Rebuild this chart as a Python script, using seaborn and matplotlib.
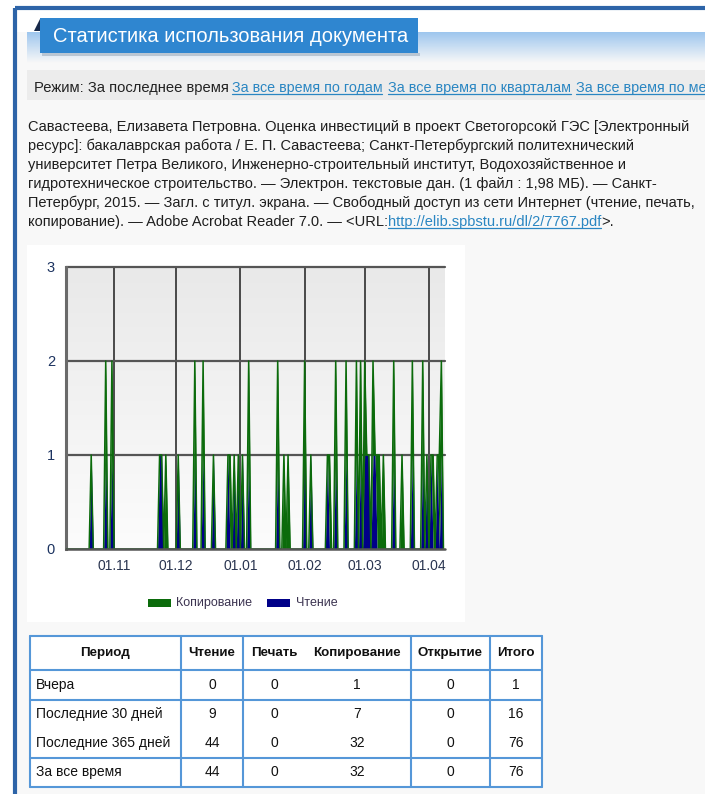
import numpy as np
import pandas as pd
import matplotlib
matplotlib.use("Agg")
import matplotlib.pyplot as plt
from matplotlib.patches import Rectangle, Polygon
from matplotlib.colors import LinearSegmentedColormap
import seaborn as sns

# ---------------- data ----------------
event_dates = ["2015-10-21", "2015-10-28", "2015-10-31", "2015-11-23", "2015-11-24",
               "2015-11-26", "2015-12-02", "2015-12-10", "2015-12-14", "2015-12-19",
               "2015-12-26", "2015-12-27", "2015-12-29", "2015-12-31", "2016-01-02",
               "2016-01-05", "2016-01-19", "2016-01-22", "2016-01-24", "2016-02-01",
               "2016-02-04", "2016-02-12", "2016-02-13", "2016-02-16", "2016-02-21",
               "2016-02-26", "2016-02-28", "2016-03-01", "2016-03-02", "2016-03-03",
               "2016-03-05", "2016-03-06", "2016-03-07", "2016-03-08", "2016-03-10",
               "2016-03-15", "2016-03-19", "2016-03-24", "2016-03-29", "2016-03-31",
               "2016-04-02", "2016-04-03", "2016-04-05", "2016-04-06", "2016-04-07"]
reading = [1, 1, 1, 1, 1, 0, 1, 1, 1, 1, 1, 0, 1, 1, 1, 1, 1, 0, 0, 1, 1, 1, 0,
           1, 1, 1, 1, 1, 1, 1, 1, 1, 0, 0, 0, 1, 0, 1, 1, 1, 1, 0, 1, 0, 1]
copying = [0, 1, 1, 0, 0, 1, 0, 1, 1, 0, 0, 1, 0, 0, 0, 1, 1, 1, 1, 1, 0, 0, 1,
           1, 1, 1, 1, 1, 0, 0, 1, 0, 1, 1, 1, 1, 1, 1, 1, 0, 0, 1, 0, 1, 1]
x_range = ["2015-10-08 20:00", "2016-04-08 18:00"]
month_ticks = ["2015-11-01", "2015-12-01", "2016-01-01", "2016-02-01", "2016-03-01", "2016-04-01"]
month_labels = ["01.11", "01.12", "01.01", "01.02", "01.03", "01.04"]
y_ticks = [0, 1, 2, 3]
legend_labels = ["Копирование", "Чтение"]

table_columns = ["Период", "Чтение", "Печать", "Копирование", "Открытие", "Итого"]
table_periods = ["Вчера", "Последние 30 дней", "Последние 365 дней", "За все время"]
tbl_reading = [0, 9, 44, 44]
tbl_print = [0, 0, 0, 0]
tbl_copy = [1, 7, 32, 32]
tbl_open = [0, 0, 0, 0]
tbl_total = [1, 16, 76, 76]

title = "Статистика использования документа"
mode_label = "Режим: За последнее время"
mode_links = ["За все время по годам", "За все время по кварталам", "За все время по месяцам"]
citation = [
    "Савастеева, Елизавета Петровна. Оценка инвестиций в проект Светогорсокй ГЭС [Электронный",
    "ресурс]: бакалаврская работа / Е. П. Савастеева; Санкт-Петербургский политехнический",
    "университет Петра Великого, Инженерно-строительный институт, Водохозяйственное и",
    "гидротехническое строительство. — Электрон. текстовые дан. (1 файл : 1,98 МБ). — Санкт-",
    "Петербург, 2015. — Загл. с титул. экрана. — Свободный доступ из сети Интернет (чтение, печать,",
]
citation_last = ["копирование). — Adobe Acrobat Reader 7.0. — <URL:", "http://elib.spbstu.ru/dl/2/7767.pdf", ">."]

# ---------------- style ----------------
sns.set_style("white")
plt.rcParams["font.family"] = ["Liberation Sans", "DejaVu Sans"]

W, H = 705, 794
GREEN = "#0b6b0b"
NAVY = "#000088"
LINK = "#2a86c2"
BLUE_BORDER = "#5597d8"

fig = plt.figure(figsize=(W / 100, H / 100), dpi=100)
fig.patch.set_facecolor("white")
page = fig.add_axes([0, 0, 1, 1])
page.set_xlim(0, W)
page.set_ylim(H, 0)
page.axis("off")
renderer = fig.canvas.get_renderer()


def put(x, y, s, size, target_w=None, **kw):
    t = page.text(x, y, s, fontsize=size, **kw)
    if target_w is not None:
        w = t.get_window_extent(renderer).width
        t.set_fontsize(size * target_w / w)
    return t


def underline(t, color, dy=1.5):
    bb = t.get_window_extent(renderer)
    yb = t.get_position()[1] + dy
    page.plot([bb.x0, min(bb.x1, W)], [yb, yb], color=color, lw=0.9, clip_on=True)


# page background and frame
page.add_patch(Rectangle((15, 8), W - 15, H - 8, facecolor="#f8f8f8", edgecolor="none"))
page.add_patch(Rectangle((15, 8), W, 24, facecolor="white", edgecolor="none"))
grad_cmap = LinearSegmentedColormap.from_list("hdr", ["#9ec6ee", "#f8f8f8"])
page.imshow(np.linspace(0, 1, 64).reshape(-1, 1), extent=[27, W, 63, 32], cmap=grad_cmap,
            aspect="auto", zorder=1)
page.plot([15, W], [8, 8], color="#2d64a8", lw=3, solid_capstyle="butt", zorder=3)
page.plot([15, 15], [8, H], color="#2d64a8", lw=3, solid_capstyle="butt", zorder=3)

# title tab
page.add_patch(Rectangle((42, 53), 378, 3, facecolor="#b9c6d3", edgecolor="none", zorder=2))
page.add_patch(Rectangle((40, 18), 378, 35, facecolor="#2f86d0", edgecolor="none", zorder=3))
page.add_patch(Polygon([(40, 19), (34, 31), (40, 31)], closed=True, facecolor="#17294a",
                       edgecolor="none", zorder=3))
put(53, 36, title, 13, target_w=354, color="white", va="center", ha="left", zorder=4)

# mode bar
page.add_patch(Rectangle((27, 70), W - 27, 30, facecolor="#ececec", edgecolor="none", zorder=1))
put(34, 92, mode_label, 8.5, target_w=194, color="#222222", va="baseline", zorder=4)
fs_link = None
for xl, s, tw in zip([231.5, 387.5, 575.5], mode_links, [150, 182.5, None]):
    t = put(xl, 92, s, fs_link if tw is None else 8.5, target_w=tw, color=LINK,
            va="baseline", zorder=4, clip_on=True)
    fs_link = t.get_fontsize()
    underline(t, LINK)

# citation paragraph
c0 = put(28, 131, citation[0], 8.5, target_w=658, color="#1e1e1e", va="baseline")
fs_c = c0.get_fontsize()
for i, line in enumerate(citation[1:], start=1):
    put(28, 131 + 19 * i, line, fs_c, color="#1e1e1e", va="baseline")
yl = 131 + 19 * 5
xcur = 28
for j, part in enumerate(citation_last):
    t = put(xcur, yl, part, fs_c, color=LINK if j == 1 else "#1e1e1e", va="baseline")
    if j == 1:
        underline(t, LINK)
    xcur = t.get_window_extent(renderer).x1

# chart white box
page.add_patch(Rectangle((27, 245), 438, 377, facecolor="white", edgecolor="none", zorder=1))

# ---------------- chart ----------------
x0, x1, y_top, y_bot = 66, 445, 267, 549
ax = fig.add_axes([x0 / W, (H - y_bot) / H, (x1 - x0) / W, (y_bot - y_top) / H])
days = pd.date_range("2015-10-09", "2016-04-08", freq="D")
df = pd.DataFrame({"date": pd.to_datetime(event_dates), "Чтение": reading, "Копирование": copying})
df = df.set_index("date").reindex(days, fill_value=0)
df["total"] = df["Чтение"] + df["Копирование"]
df = df.rename_axis("date").reset_index()

bg_cmap = LinearSegmentedColormap.from_list("bg", ["#fcfcfc", "#e9e9e9"])
ax.imshow(np.linspace(0, 1, 128).reshape(-1, 1), extent=[0, 1, 0, 1], transform=ax.transAxes,
          cmap=bg_cmap, aspect="auto", origin="lower", zorder=0)

ax.fill_between(df["date"], 0, df["Чтение"], color=NAVY, lw=0, zorder=3)
ax.fill_between(df["date"], df["Чтение"], df["total"], color=GREEN, lw=0, zorder=3)
sns.lineplot(data=df, x="date", y="total", color=GREEN, lw=1.1, ax=ax, zorder=4)

tick_dates = pd.to_datetime(month_ticks)
for d in tick_dates:
    ax.axvline(d, color="#2e2e2e", lw=1.2, zorder=2)
for yv in y_ticks[1:]:
    ax.axhline(yv, color="#555555", lw=1.6, zorder=2, clip_on=False)
ax.axhline(0, color="#555555", lw=1.8, zorder=5, clip_on=False)

ax.set_xlim(pd.Timestamp(x_range[0]), pd.Timestamp(x_range[1]))
ax.set_ylim(0, 3)
ax.set_xticks(tick_dates)
ax.set_xticklabels(month_labels)
ax.set_yticks(y_ticks)
ax.set_yticklabels([str(v) for v in y_ticks])
ax.tick_params(axis="x", length=4, width=1, color="#555555", labelsize=10, labelcolor="#2a3550", pad=3)
ax.tick_params(axis="y", length=6, width=1.4, color="#555555", labelsize=10.5, labelcolor="#1c3360", pad=2)
ax.set_xlabel("")
ax.set_ylabel("")
for side in ["top", "right", "bottom"]:
    ax.spines[side].set_visible(False)
ax.spines["left"].set_color("#6a6a6a")
ax.spines["left"].set_linewidth(2.2)
ax.grid(False)

# legend
for (xr, xt), lab, col in zip([(148, 176), (267, 296)], legend_labels, [GREEN, NAVY]):
    page.add_patch(Rectangle((xr, 598.5), 23, 8, facecolor=col, edgecolor="none", zorder=3))
    put(xt, 603, lab, 9, color="#3b3350", va="center", zorder=3)

# ---------------- table ----------------
tx = [30, 181, 243, 411, 490, 542]
ty_lines = [636, 670, 700, 758, 787]
page.add_patch(Rectangle((30, 636), 512, 151, facecolor="white", edgecolor="none", zorder=1))
for yv in ty_lines:
    page.plot([tx[0], tx[-1]], [yv, yv], color=BLUE_BORDER, lw=1.5, zorder=3)
for xv in tx:
    page.plot([xv, xv], [636, 787], color=BLUE_BORDER, lw=1.5, zorder=3)

col_cx = [105, 212, 274, 357, 450, 516]
for cx, lab in zip(col_cx, table_columns):
    put(cx, 653, lab, 9.6, ha="center", va="center", fontweight="bold", color="#111111", zorder=4)
row_cy = [685, 714, 743, 772]
for i, cy in enumerate(row_cy):
    put(36, cy, table_periods[i], 10, ha="left", va="center", color="#111111", zorder=4)
    vals = [tbl_reading[i], tbl_print[i], tbl_copy[i], tbl_open[i], tbl_total[i]]
    for cx, v in zip(col_cx[1:], vals):
        put(cx, cy, str(v), 10, ha="center", va="center", color="#111111", zorder=4)

fig.savefig("out.png", dpi=100)
